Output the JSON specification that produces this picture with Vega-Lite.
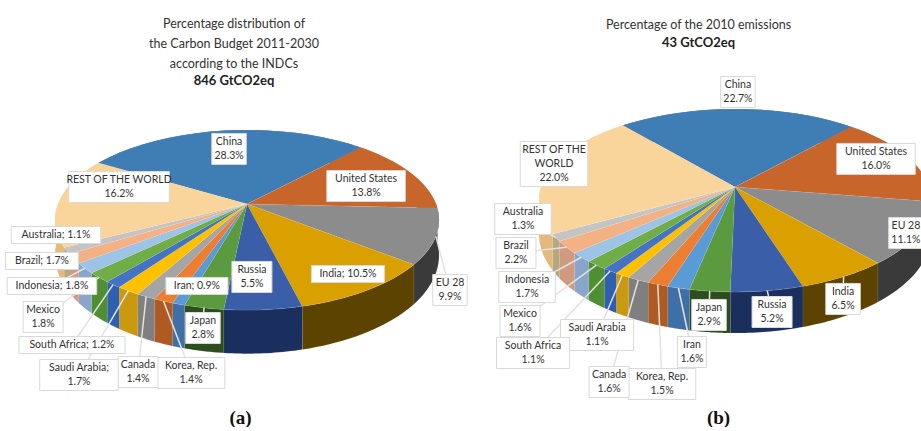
{"$schema":"https://vega.github.io/schema/vega-lite/v6.json","padding":0,"spacing":0,"background":"white","config":{"view":{"stroke":null},"font":"Lato"},
"datasets":{
"a":[{"rank":1,"slice":"China","value":28.3,"label":"China\n28.3%"},{"rank":2,"slice":"United States","value":13.8,"label":"United States\n13.8%"},{"rank":3,"slice":"EU 28","value":9.9,"label":"EU 28\n9.9%"},{"rank":4,"slice":"India","value":10.5,"label":"India; 10.5%"},{"rank":5,"slice":"Russia","value":5.5,"label":"Russia\n5.5%"},{"rank":6,"slice":"Japan","value":2.8,"label":"Japan\n2.8%"},{"rank":7,"slice":"Iran","value":0.9,"label":"Iran; 0.9%"},{"rank":8,"slice":"Korea, Rep.","value":1.4,"label":"Korea, Rep.\n1.4%"},{"rank":9,"slice":"Canada","value":1.4,"label":"Canada\n1.4%"},{"rank":10,"slice":"Saudi Arabia","value":1.7,"label":"Saudi Arabia;\n1.7%"},{"rank":11,"slice":"South Africa","value":1.2,"label":"South Africa; 1.2%"},{"rank":12,"slice":"Mexico","value":1.8,"label":"Mexico\n1.8%"},{"rank":13,"slice":"Indonesia","value":1.8,"label":"Indonesia; 1.8%"},{"rank":14,"slice":"Brazil","value":1.7,"label":"Brazil; 1.7%"},{"rank":15,"slice":"Australia","value":1.1,"label":"Australia; 1.1%"},{"rank":16,"slice":"REST OF THE WORLD","value":16.2,"label":"REST OF THE WORLD\n16.2%"}],
"b":[{"rank":1,"slice":"China","value":22.7,"label":"China\n22.7%"},{"rank":2,"slice":"United States","value":16.0,"label":"United States\n16.0%"},{"rank":3,"slice":"EU 28","value":11.1,"label":"EU 28\n11.1%"},{"rank":4,"slice":"India","value":6.5,"label":"India\n6.5%"},{"rank":5,"slice":"Russia","value":5.2,"label":"Russia\n5.2%"},{"rank":6,"slice":"Japan","value":2.9,"label":"Japan\n2.9%"},{"rank":7,"slice":"Iran","value":1.6,"label":"Iran\n1.6%"},{"rank":8,"slice":"Korea, Rep.","value":1.5,"label":"Korea, Rep.\n1.5%"},{"rank":9,"slice":"Canada","value":1.6,"label":"Canada\n1.6%"},{"rank":10,"slice":"Saudi Arabia","value":1.1,"label":"Saudi Arabia\n1.1%"},{"rank":11,"slice":"South Africa","value":1.1,"label":"South Africa\n1.1%"},{"rank":12,"slice":"Mexico","value":1.6,"label":"Mexico\n1.6%"},{"rank":13,"slice":"Indonesia","value":1.7,"label":"Indonesia\n1.7%"},{"rank":14,"slice":"Brazil","value":2.2,"label":"Brazil\n2.2%"},{"rank":15,"slice":"Australia","value":1.3,"label":"Australia\n1.3%"},{"rank":16,"slice":"REST OF THE WORLD","value":22.0,"label":"REST OF THE\nWORLD\n22.0%"}]
},
"hconcat":[
{"width":470,"height":405,"data":{"name":"a"},
"title":{"text":["Percentage distribution of","the Carbon Budget 2011-2030","according to the INDCs"],"subtitle":"846 GtCO2eq","font":"Lato","subtitleFont":"Lato","fontSize":12.5,"subtitleFontSize":13,"fontWeight":"normal","subtitleFontWeight":"bold","color":"#333","subtitleColor":"#222","lineHeight":20,"subtitleLineHeight":20,"subtitlePadding":5,"offset":-88,"anchor":"middle","frame":"group","dx":-1},
"transform":[{"joinaggregate":[{"op":"sum","field":"value","as":"total"}]},{"window":[{"op":"sum","field":"value","as":"cum"}],"sort":[{"field":"rank"}]},{"calculate":"-59+(datum.cum-datum.value)/datum.total*360","as":"start"},{"calculate":"datum.value/datum.total*360","as":"span"}],
"encoding":{"x":{"field":"px","type":"quantitative","scale":{"domain":[-1.3069,1.1799],"nice":false,"zero":false},"axis":{"domain":false,"ticks":false,"labels":false,"grid":false,"title":"(a)","titleFont":"Liberation Serif","titleFontSize":19,"titleFontWeight":"bold","titleColor":"#111","titleX":240,"titlePadding":3}},"y":{"field":"py","type":"quantitative","scale":{"domain":[-2.305,2.339],"nice":false,"zero":false},"axis":null}},
"layer":[
{"transform":[{"calculate":"[0,0.05,0.1,0.15,0.2,0.25,0.3,0.35,0.4,0.45,0.5,0.55,0.6,0.65,0.7,0.75,0.8,0.85,0.9,0.95,1,1.001,1.05,1.1,1.15,1.2,1.25,1.3,1.35,1.4,1.45,1.5,1.55,1.6,1.65,1.7,1.75,1.8,1.85,1.9,1.95,2]","as":"s"},{"flatten":["s"]},{"calculate":"(datum.start+(datum.s<=1?datum.s:2-datum.s)*datum.span)*PI/180","as":"t"},{"calculate":"sin(datum.t)/(1+0.178*cos(datum.t))","as":"px"},{"calculate":"cos(datum.t)/(1+0.178*cos(datum.t))-(datum.s>1?0.38-0.12*cos(datum.t):0)","as":"py"}],
"mark":{"type":"line","stroke":"#fff","strokeWidth":0.3,"strokeOpacity":0.3},
"encoding":{"detail":{"field":"slice"},"order":{"field":"s","type":"quantitative"},"fill":{"field":"slice","type":"nominal","legend":null,"scale":{"domain":["China","United States","EU 28","India","Russia","Japan","Iran","Korea, Rep.","Canada","Saudi Arabia","South Africa","Mexico","Indonesia","Brazil","Australia","REST OF THE WORLD"],"range":["#2b5a85","#8f4820","#3a3a3a","#5c4400","#1b2f5e","#2e4d1f","#3f6fa8","#ae5a22","#7f7f7f","#c99a10","#2f5fb0","#4f8f32","#8aa5cc","#d09a80","#b7a77e","#e3ba7c"]}}}},
{"transform":[{"calculate":"[-1,0,0.05,0.1,0.15,0.2,0.25,0.3,0.35,0.4,0.45,0.5,0.55,0.6,0.65,0.7,0.75,0.8,0.85,0.9,0.95,1]","as":"f"},{"flatten":["f"]},{"calculate":"(datum.start+datum.f*datum.span)*PI/180","as":"t"},{"calculate":"datum.f<0?0:sin(datum.t)/(1+0.178*cos(datum.t))","as":"px"},{"calculate":"datum.f<0?0:cos(datum.t)/(1+0.178*cos(datum.t))","as":"py"}],
"mark":{"type":"line","stroke":"#fff","strokeWidth":0.3,"strokeOpacity":0.3},
"encoding":{"detail":{"field":"slice"},"order":{"field":"f","type":"quantitative"},"fill":{"field":"slice","type":"nominal","legend":null,"scale":{"domain":["China","United States","EU 28","India","Russia","Japan","Iran","Korea, Rep.","Canada","Saudi Arabia","South Africa","Mexico","Indonesia","Brazil","Australia","REST OF THE WORLD"],"range":["#3f7db5","#c8652b","#8c8c8c","#d9a000","#3a5fa8","#5b9a3e","#5b9bd5","#ed7d31","#a5a5a5","#ffc000","#4472c4","#70ad47","#9dc3e6","#f4b183","#c4c4c4","#fad59b"]}}}},
{"transform":[{"calculate":"{'China':[-0.095,0.631],'United States':[0.63,0.206],'EU 28':[1.074,-0.986],'India':[0.534,-0.803],'Russia':[0.026,-0.837],'Japan':[-0.233,-1.422],'Iran':[-0.265,-0.94],'Korea, Rep.':[-0.296,-1.938],'Canada':[-0.577,-1.927],'Saudi Arabia':[-0.889,-1.961],'South Africa':[-0.926,-1.617],'Mexico':[-1.079,-1.296],'Indonesia':[-1.032,-0.94],'Brazil':[-1.085,-0.654],'Australia':[-1.011,-0.356],'REST OF THE WORLD':[-0.677,0.195]}[datum.slice]","as":"pos"},{"calculate":"datum.pos[0]","as":"px"},{"calculate":"datum.pos[1]","as":"py"},{"filter":"sqrt(datum.px*datum.px+datum.py*datum.py)>1.1"},{"calculate":"(datum.start+0.5*datum.span)*PI/180","as":"t"},{"calculate":"sin(datum.t)/(1+0.178*cos(datum.t))","as":"rx"},{"calculate":"cos(datum.t)/(1+0.178*cos(datum.t))","as":"ry"}],
"mark":{"type":"rule","color":"#e2e2e2","strokeWidth":1.5},
"encoding":{"x2":{"field":"rx"},"y2":{"field":"ry"}}},
{"transform":[{"calculate":"{'China':[-0.095,0.631],'United States':[0.63,0.206],'EU 28':[1.074,-0.986],'India':[0.534,-0.803],'Russia':[0.026,-0.837],'Japan':[-0.233,-1.422],'Iran':[-0.265,-0.94],'Korea, Rep.':[-0.296,-1.938],'Canada':[-0.577,-1.927],'Saudi Arabia':[-0.889,-1.961],'South Africa':[-0.926,-1.617],'Mexico':[-1.079,-1.296],'Indonesia':[-1.032,-0.94],'Brazil':[-1.085,-0.654],'Australia':[-1.011,-0.356],'REST OF THE WORLD':[-0.677,0.195]}[datum.slice]","as":"pos"},{"calculate":"split(datum.label,'\\n')","as":"lines"},{"calculate":"(max(length(datum.lines[0]),length(datum.lines[1]||''),length(datum.lines[2]||''))*5.5+7)/2/189","as":"hw"},{"calculate":"(length(datum.lines)*14+3)/2/87.2","as":"hh"},{"calculate":"datum.pos[0]-datum.hw","as":"px"},{"calculate":"datum.pos[0]+datum.hw","as":"px2"},{"calculate":"datum.pos[1]-datum.hh","as":"py"},{"calculate":"datum.pos[1]+datum.hh","as":"py2"}],
"mark":{"type":"rect","fill":"white","stroke":"#d9d9d9","strokeWidth":1},
"encoding":{"x2":{"field":"px2"},"y2":{"field":"py2"}}},
{"transform":[{"calculate":"{'China':[-0.095,0.631],'United States':[0.63,0.206],'EU 28':[1.074,-0.986],'India':[0.534,-0.803],'Russia':[0.026,-0.837],'Japan':[-0.233,-1.422],'Iran':[-0.265,-0.94],'Korea, Rep.':[-0.296,-1.938],'Canada':[-0.577,-1.927],'Saudi Arabia':[-0.889,-1.961],'South Africa':[-0.926,-1.617],'Mexico':[-1.079,-1.296],'Indonesia':[-1.032,-0.94],'Brazil':[-1.085,-0.654],'Australia':[-1.011,-0.356],'REST OF THE WORLD':[-0.677,0.195]}[datum.slice]","as":"pos"},{"calculate":"length(split(datum.label,'\\n'))","as":"n"},{"calculate":"datum.pos[0]","as":"px"},{"calculate":"datum.pos[1]+(datum.n-1)*7/87.2","as":"py"}],
"mark":{"type":"text","font":"Lato","fontSize":10.5,"lineBreak":"\n","lineHeight":14,"align":"center","baseline":"middle","color":"#333333"},
"encoding":{"text":{"field":"label","type":"nominal"}}}
],"resolve":{"scale":{"fill":"independent"}}},
{"width":451,"height":405,"data":{"name":"b"},
"title":{"text":["Percentage of the 2010 emissions"],"subtitle":"43 GtCO2eq","font":"Lato","subtitleFont":"Lato","fontSize":12.5,"subtitleFontSize":13,"fontWeight":"normal","subtitleFontWeight":"bold","color":"#333","subtitleColor":"#222","lineHeight":20,"subtitleLineHeight":20,"subtitlePadding":6,"offset":-50,"anchor":"middle","frame":"group","dx":3},
"transform":[{"joinaggregate":[{"op":"sum","field":"value","as":"total"}]},{"window":[{"op":"sum","field":"value","as":"cum"}],"sort":[{"field":"rank"}]},{"calculate":"-40+(datum.cum-datum.value)/datum.total*360","as":"start"},{"calculate":"datum.value/datum.total*360","as":"span"}],
"encoding":{"x":{"field":"px","type":"quantitative","scale":{"domain":[-1.366,0.9588],"nice":false,"zero":false},"axis":{"domain":false,"ticks":false,"labels":false,"grid":false,"title":"(b)","titleFont":"Liberation Serif","titleFontSize":19,"titleFontWeight":"bold","titleColor":"#111","titleX":248,"titlePadding":3}},"y":{"field":"py","type":"quantitative","scale":{"domain":[-2.436,2.089],"nice":false,"zero":false},"axis":null}},
"layer":[
{"transform":[{"calculate":"[0,0.05,0.1,0.15,0.2,0.25,0.3,0.35,0.4,0.45,0.5,0.55,0.6,0.65,0.7,0.75,0.8,0.85,0.9,0.95,1,1.001,1.05,1.1,1.15,1.2,1.25,1.3,1.35,1.4,1.45,1.5,1.55,1.6,1.65,1.7,1.75,1.8,1.85,1.9,1.95,2]","as":"s"},{"flatten":["s"]},{"calculate":"(datum.start+(datum.s<=1?datum.s:2-datum.s)*datum.span)*PI/180","as":"t"},{"calculate":"sin(datum.t)/(1+0.147*cos(datum.t))","as":"px"},{"calculate":"cos(datum.t)/(1+0.147*cos(datum.t))-(datum.s>1?0.36-0.1*cos(datum.t):0)","as":"py"}],
"mark":{"type":"line","clip":true,"stroke":"#fff","strokeWidth":0.3,"strokeOpacity":0.3},
"encoding":{"detail":{"field":"slice"},"order":{"field":"s","type":"quantitative"},"fill":{"field":"slice","type":"nominal","legend":null,"scale":{"domain":["China","United States","EU 28","India","Russia","Japan","Iran","Korea, Rep.","Canada","Saudi Arabia","South Africa","Mexico","Indonesia","Brazil","Australia","REST OF THE WORLD"],"range":["#2b5a85","#8f4820","#3a3a3a","#5c4400","#1b2f5e","#2e4d1f","#3f6fa8","#ae5a22","#7f7f7f","#c99a10","#2f5fb0","#4f8f32","#8aa5cc","#d09a80","#b7a77e","#e3ba7c"]}}}},
{"transform":[{"calculate":"[-1,0,0.05,0.1,0.15,0.2,0.25,0.3,0.35,0.4,0.45,0.5,0.55,0.6,0.65,0.7,0.75,0.8,0.85,0.9,0.95,1]","as":"f"},{"flatten":["f"]},{"calculate":"(datum.start+datum.f*datum.span)*PI/180","as":"t"},{"calculate":"datum.f<0?0:sin(datum.t)/(1+0.147*cos(datum.t))","as":"px"},{"calculate":"datum.f<0?0:cos(datum.t)/(1+0.147*cos(datum.t))","as":"py"}],
"mark":{"type":"line","clip":true,"stroke":"#fff","strokeWidth":0.3,"strokeOpacity":0.3},
"encoding":{"detail":{"field":"slice"},"order":{"field":"f","type":"quantitative"},"fill":{"field":"slice","type":"nominal","legend":null,"scale":{"domain":["China","United States","EU 28","India","Russia","Japan","Iran","Korea, Rep.","Canada","Saudi Arabia","South Africa","Mexico","Indonesia","Brazil","Australia","REST OF THE WORLD"],"range":["#3f7db5","#c8652b","#8c8c8c","#d9a000","#3a5fa8","#5b9a3e","#5b9bd5","#ed7d31","#a5a5a5","#ffc000","#4472c4","#70ad47","#9dc3e6","#f4b183","#c4c4c4","#fad59b"]}}}},
{"transform":[{"calculate":"{'China':[0.015,1.061],'United States':[0.727,0.313],'EU 28':[0.881,-0.514],'India':[0.557,-1.251],'Russia':[0.191,-1.397],'Japan':[-0.134,-1.43],'Iran':[-0.222,-1.844],'Korea, Rep.':[-0.376,-2.201],'Canada':[-0.649,-2.179],'Saudi Arabia':[-0.711,-1.654],'South Africa':[-1.041,-1.855],'Mexico':[-1.108,-1.497],'Indonesia':[-1.072,-1.117],'Brazil':[-1.129,-0.737],'Australia':[-1.093,-0.358],'REST OF THE WORLD':[-0.933,0.257]}[datum.slice]","as":"pos"},{"calculate":"datum.pos[0]","as":"px"},{"calculate":"datum.pos[1]","as":"py"},{"filter":"sqrt(datum.px*datum.px+datum.py*datum.py)>1.1"},{"calculate":"(datum.start+0.5*datum.span)*PI/180","as":"t"},{"calculate":"sin(datum.t)/(1+0.147*cos(datum.t))","as":"rx"},{"calculate":"cos(datum.t)/(1+0.147*cos(datum.t))","as":"ry"}],
"mark":{"type":"rule","clip":true,"color":"#e2e2e2","strokeWidth":1.5},
"encoding":{"x2":{"field":"rx"},"y2":{"field":"ry"}}},
{"transform":[{"calculate":"{'China':[0.015,1.061],'United States':[0.727,0.313],'EU 28':[0.881,-0.514],'India':[0.557,-1.251],'Russia':[0.191,-1.397],'Japan':[-0.134,-1.43],'Iran':[-0.222,-1.844],'Korea, Rep.':[-0.376,-2.201],'Canada':[-0.649,-2.179],'Saudi Arabia':[-0.711,-1.654],'South Africa':[-1.041,-1.855],'Mexico':[-1.108,-1.497],'Indonesia':[-1.072,-1.117],'Brazil':[-1.129,-0.737],'Australia':[-1.093,-0.358],'REST OF THE WORLD':[-0.933,0.257]}[datum.slice]","as":"pos"},{"calculate":"split(datum.label,'\\n')","as":"lines"},{"calculate":"(max(length(datum.lines[0]),length(datum.lines[1]||''),length(datum.lines[2]||''))*5.5+7)/2/194","as":"hw"},{"calculate":"(length(datum.lines)*14+3)/2/89.5","as":"hh"},{"calculate":"datum.pos[0]-datum.hw","as":"px"},{"calculate":"datum.pos[0]+datum.hw","as":"px2"},{"calculate":"datum.pos[1]-datum.hh","as":"py"},{"calculate":"datum.pos[1]+datum.hh","as":"py2"}],
"mark":{"type":"rect","clip":true,"fill":"white","stroke":"#d9d9d9","strokeWidth":1},
"encoding":{"x2":{"field":"px2"},"y2":{"field":"py2"}}},
{"transform":[{"calculate":"{'China':[0.015,1.061],'United States':[0.727,0.313],'EU 28':[0.881,-0.514],'India':[0.557,-1.251],'Russia':[0.191,-1.397],'Japan':[-0.134,-1.43],'Iran':[-0.222,-1.844],'Korea, Rep.':[-0.376,-2.201],'Canada':[-0.649,-2.179],'Saudi Arabia':[-0.711,-1.654],'South Africa':[-1.041,-1.855],'Mexico':[-1.108,-1.497],'Indonesia':[-1.072,-1.117],'Brazil':[-1.129,-0.737],'Australia':[-1.093,-0.358],'REST OF THE WORLD':[-0.933,0.257]}[datum.slice]","as":"pos"},{"calculate":"length(split(datum.label,'\\n'))","as":"n"},{"calculate":"datum.pos[0]","as":"px"},{"calculate":"datum.pos[1]+(datum.n-1)*7/89.5","as":"py"}],
"mark":{"type":"text","clip":true,"font":"Lato","fontSize":10.5,"lineBreak":"\n","lineHeight":14,"align":"center","baseline":"middle","color":"#333333"},
"encoding":{"text":{"field":"label","type":"nominal"}}}
],"resolve":{"scale":{"fill":"independent"}}}
]}
